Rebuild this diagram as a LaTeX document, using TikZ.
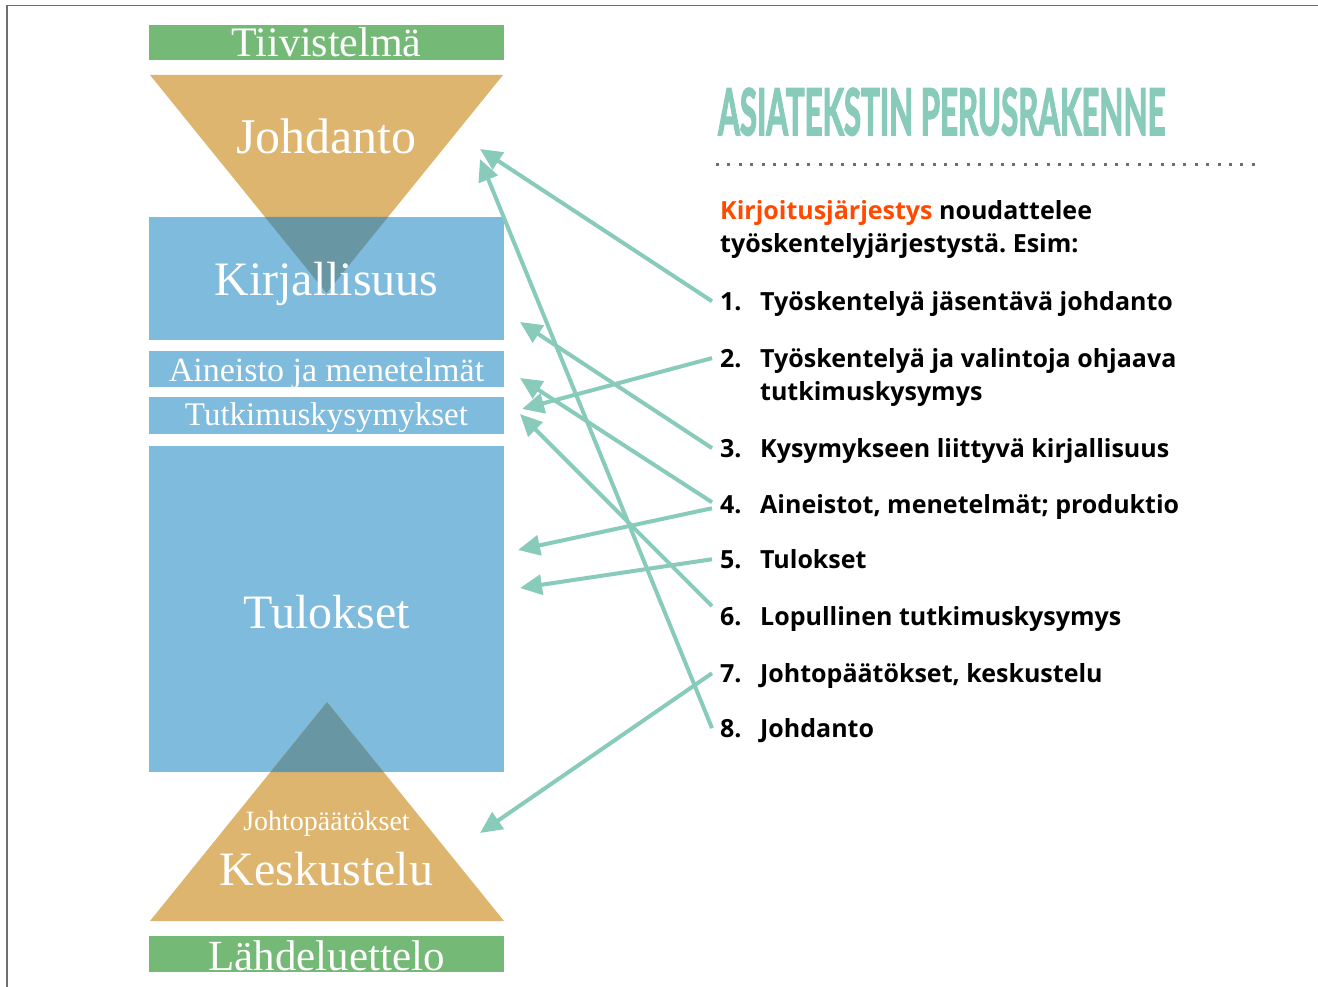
\documentclass[tikz,border=0pt]{standalone}
\usepackage{fontspec}
\usepackage{graphicx}
\setmainfont{Liberation Serif}
\newfontfamily\listfont{Open Sans}
\newfontfamily\titlefont[BoldFeatures={FakeBold=3}]{Lato}
\usetikzlibrary{arrows.meta}
\frenchspacing

\definecolor{bargreen}{RGB}{116,185,118}
\definecolor{funnelorange}{RGB}{222,181,110}
\definecolor{boxblue}{RGB}{126,187,220}
\definecolor{overlapblue}{RGB}{104,150,162}
\definecolor{arrteal}{RGB}{137,203,186}
\definecolor{kirjred}{RGB}{255,74,0}
\definecolor{framegray}{RGB}{110,110,110}

\tikzset{
  boxtext/.style={text=white,anchor=base,inner sep=0pt},
  itemtext/.style={anchor=base west,inner sep=0pt,font=\listfont\bfseries\fontsize{25}{33}\selectfont},
  itemnum/.style={itemtext,inner xsep=8pt},
  arr/.style={draw=arrteal,line width=4pt,-{Triangle[length=22pt,width=20pt]}}
}

\begin{document}
\begin{tikzpicture}[x=1pt,y=-1pt]
\useasboundingbox (0,0) rectangle (1318,987);
\draw[framegray,line width=1.5pt] (7,987) -- (7,5.5) -- (1318,5.5);

% left column: bars, funnel and boxes
\fill[bargreen] (149,25) rectangle (504,60);
\fill[funnelorange] (150,75) -- (503,75) -- (326.5,293) -- cycle;
\fill[boxblue] (149,217) rectangle (504,340);
\fill[overlapblue] (265,217) -- (388,217) -- (326.5,293) -- cycle;
\fill[boxblue] (149,351) rectangle (504,387);
\fill[boxblue] (149,397) rectangle (504,434);
\fill[boxblue] (149,446) rectangle (504,772);
\fill[funnelorange] (150,921) -- (504,921) -- (327,702) -- cycle;
\fill[overlapblue] (327,702) -- (383.6,772) -- (270.4,772) -- cycle;
\fill[bargreen] (149,936) rectangle (504,972);

\node[boxtext,font=\fontsize{42}{42}\selectfont] (tiiv) at (326.5,57) {Tiivistelmä};
\node[boxtext,font=\fontsize{50}{50}\selectfont] (johd) at (326.5,154) {Johdanto};
\node[boxtext,font=\fontsize{48}{48}\selectfont] (kirj) at (326.5,296) {Kirjallisuus};
\node[boxtext,font=\fontsize{34}{34}\selectfont] (aine) at (326.5,381) {Aineisto ja menetelmät};
\node[boxtext,font=\fontsize{33}{33}\selectfont] (tutk) at (326.5,425) {Tutkimuskysymykset};
\node[boxtext,font=\fontsize{48}{48}\selectfont] (tulo) at (326.5,628) {Tulokset};
\node[boxtext,font=\fontsize{28}{28}\selectfont] (joht) at (326.5,830) {Johtopäätökset};
\node[boxtext,font=\fontsize{48}{48}\selectfont] (kesk) at (326.5,885) {Keskustelu};
\node[boxtext,font=\fontsize{43}{43}\selectfont] (lahd) at (326.5,970) {Lähdeluettelo};

% right column: title and list
\node[anchor=base west,inner sep=0pt,text=arrteal] (title) at (718,135)
  {\resizebox{447pt}{47pt}{\titlefont\bfseries ASIATEKSTIN PERUSRAKENNE}};
\draw[framegray,line width=3pt,dash pattern=on 3pt off 8.4pt] (716,165) -- (1260,165);

\node[itemtext] (intro1) at (720,220) {\textcolor{kirjred}{Kirjoitusjärjestys} noudattelee};
\node[itemtext] (intro2) at (720,253) {työskentelyjärjestystä. Esim:};

\node[itemnum] (n1) at (712,310) {1.};
\node[itemtext] (it1) at (760,310) {Työskentelyä jäsentävä johdanto};
\node[itemnum] (n2) at (712,367) {2.};
\node[itemtext] (it2) at (760,367) {Työskentelyä ja valintoja ohjaava};
\node[itemtext] (it2b) at (760,400) {tutkimuskysymys};
\node[itemnum] (n3) at (712,457) {3.};
\node[itemtext] (it3) at (760,457) {Kysymykseen liittyvä kirjallisuus};
\node[itemnum] (n4) at (712,513) {4.};
\node[itemtext] (it4) at (760,513) {Aineistot, menetelmät; produktio};
\node[itemnum] (n5) at (712,568) {5.};
\node[itemtext] (it5) at (760,568) {Tulokset};
\node[itemnum] (n6) at (712,625) {6.};
\node[itemtext] (it6) at (760,625) {Lopullinen tutkimuskysymys};
\node[itemnum] (n7) at (712,682) {7.};
\node[itemtext] (it7) at (760,682) {Johtopäätökset, keskustelu};
\node[itemnum] (n8) at (712,737) {8.};
\node[itemtext] (it8) at (760,737) {Johdanto};

% arrow tips on the left column
\node[coordinate] (tJoh1) at (480,149) {};
\node[coordinate] (tJoh8) at (480,159) {};
\node[coordinate] (tKirj) at (520,322) {};
\node[coordinate] (tAine) at (520,378) {};
\node[coordinate] (tTutk2) at (522,409) {};
\node[coordinate] (tTutk6) at (520,414) {};
\node[coordinate] (tTulo4) at (518,550) {};
\node[coordinate] (tTulo5) at (520,588) {};
\node[coordinate] (tKesk) at (480,833) {};

\draw[arr] (n1.west) -- (tJoh1);
\draw[arr] (n2.west) -- (tTutk2);
\draw[arr] (n3.west) -- (tKirj);
\draw[arr] ([yshift=2pt]n4.west) -- (tAine);
\draw[arr] ([yshift=-4pt]n4.west) -- (tTulo4);
\draw[arr] (n5.west) -- (tTulo5);
\draw[arr] ([yshift=10pt]n6.west) -- (tTutk6);
\draw[arr] (n7.west) -- (tKesk);
\draw[arr] (n8.west) -- (tJoh8);
\end{tikzpicture}
\end{document}
